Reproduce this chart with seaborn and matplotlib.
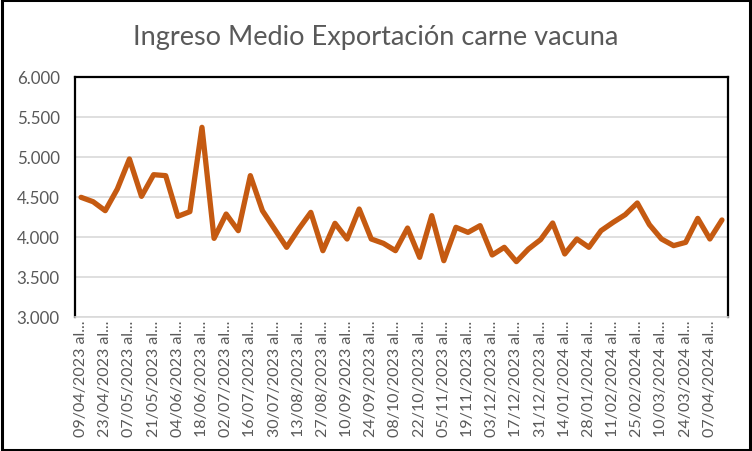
import matplotlib
matplotlib.use("Agg")
import matplotlib.pyplot as plt
import seaborn as sns
import pandas as pd
from matplotlib.patches import Rectangle

title = "Ingreso Medio Exportación carne vacuna"

week_start = pd.date_range("2023-04-09", periods=54, freq="7D")
weeks = [f"{d:%d/%m/%Y} al {(d + pd.Timedelta(days=6)):%d/%m/%Y}" for d in week_start]

values = [4496, 4441, 4329, 4600, 4975, 4508, 4779, 4767, 4258, 4317,
          5371, 3983, 4287, 4079, 4767, 4329, 4100, 3871, 4100, 4308,
          3829, 4171, 3975, 4350, 3975, 3921, 3829, 4112, 3746, 4267,
          3704, 4121, 4058, 4142, 3775, 3871, 3692, 3850, 3967, 4175,
          3788, 3975, 3871, 4079, 4183, 4279, 4425, 4154, 3975, 3892,
          3933, 4233, 3975, 4213]

y_ticks = [3000, 3500, 4000, 4500, 5000, 5500, 6000]
y_labels = ["3.000", "3.500", "4.000", "4.500", "5.000", "5.500", "6.000"]

sns.set_theme(style="white")
plt.rcParams["font.family"] = ["Lato", "DejaVu Sans"]

df = pd.DataFrame({"semana": weeks, "ingreso": values})

fig = plt.figure(figsize=(7.52, 4.52), dpi=100)
ax = fig.add_axes([75 / 752, 1 - 318 / 452, (728 - 75) / 752, (318 - 78) / 452])

sns.lineplot(data=df, x="semana", y="ingreso", ax=ax, color="#C55A11",
             linewidth=3.8, sort=False, zorder=3)

ax.set_xlim(-0.5, len(weeks) - 0.5)
ax.set_ylim(3000, 6000)
ax.set_yticks(y_ticks)
ax.set_yticklabels(y_labels)
tick_pos = list(range(0, len(weeks), 2))
ax.set_xticks(tick_pos)
ax.set_xticklabels([weeks[i][:13] + "..." for i in tick_pos], rotation=90)
ax.tick_params(axis="x", length=0, pad=2, labelsize=11.5, labelcolor="#595959")
ax.tick_params(axis="y", length=0, pad=11, labelsize=12.2, labelcolor="#595959")
ax.set_xlabel("")
ax.set_ylabel("")
ax.grid(axis="y", color="#D9D9D9", linewidth=1.2)
ax.set_axisbelow(True)

for side in ["top", "left", "right"]:
    ax.spines[side].set_color("black")
    ax.spines[side].set_linewidth(1.6)
ax.spines["bottom"].set_color("#D9D9D9")
ax.spines["bottom"].set_linewidth(1.2)

fig.text(0.5, 1 - 38 / 452, title, ha="center", va="center",
         fontsize=19.5, color="#595959")

fig.patches.append(Rectangle((0.002, 0.003), 0.996, 0.994, transform=fig.transFigure,
                             fill=False, edgecolor="black", linewidth=2.2))

fig.savefig("out.png", dpi=100)
